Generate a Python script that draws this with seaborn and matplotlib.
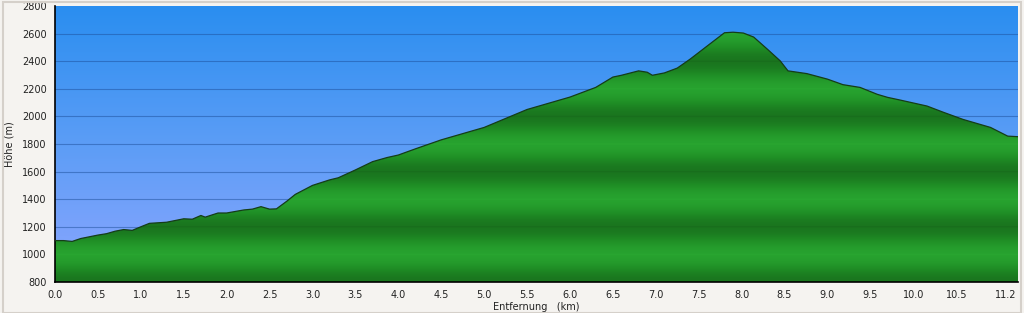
import numpy as np
import pandas as pd
import matplotlib
matplotlib.use("Agg")
import matplotlib.pyplot as plt
from matplotlib.colors import LinearSegmentedColormap
import seaborn as sns

# ---- data ----
distance_km = [0.0, 0.1, 0.2, 0.3, 0.5, 0.6, 0.7, 0.8, 0.9, 1.0, 1.1, 1.3, 1.5, 1.6,
               1.7, 1.75, 1.9, 2.0, 2.2, 2.3, 2.4, 2.5, 2.58, 2.7, 2.8, 3.0, 3.2,
               3.3, 3.5, 3.7, 3.87, 4.0, 4.2, 4.5, 5.0, 5.5, 6.0, 6.3, 6.5, 6.6,
               6.8, 6.9, 6.96, 7.1, 7.25, 7.4, 7.63, 7.8, 7.9, 8.02, 8.14, 8.3,
               8.45, 8.54, 8.76, 9.0, 9.18, 9.38, 9.58, 9.7, 9.85, 10.16, 10.35,
               10.58, 10.9, 11.1, 11.22]
elevation_m = [1100, 1100, 1094, 1115, 1140, 1150, 1168, 1180, 1174, 1200, 1225, 1233,
               1258, 1255, 1282, 1270, 1300, 1300, 1322, 1328, 1346, 1328, 1330,
               1385, 1435, 1500, 1540, 1555, 1612, 1672, 1702, 1720, 1765, 1830,
               1920, 2050, 2140, 2210, 2285, 2298, 2330, 2320, 2298, 2315, 2350,
               2415, 2525, 2606, 2610, 2604, 2575, 2487, 2402, 2330, 2310, 2270,
               2230, 2210, 2160, 2138, 2118, 2075, 2030, 1978, 1920, 1857, 1853]
x_ticks = [0.0, 0.5, 1.0, 1.5, 2.0, 2.5, 3.0, 3.5, 4.0, 4.5, 5.0, 5.5, 6.0, 6.5,
           7.0, 7.5, 8.0, 8.5, 9.0, 9.5, 10.0, 10.5, 11.2]
y_ticks = [800, 1000, 1200, 1400, 1600, 1800, 2000, 2200, 2400, 2600, 2800]

df = pd.DataFrame({"km": distance_km, "m": elevation_m})

sns.set_style("white")
plt.rcParams["font.family"] = ["DejaVu Sans"]

fig = plt.figure(figsize=(10.24, 3.13), dpi=100, facecolor="#f5f3f0")
ax = fig.add_axes([55 / 1024, 31 / 313, (1018 - 55) / 1024, (307 - 31) / 313])
ax.set_facecolor("#f5f3f0")

xmin, xmax = 0.0, 11.22
ymin, ymax = y_ticks[0], y_ticks[-1]
ax.set_xlim(xmin, xmax)
ax.set_ylim(ymin, ymax)

# sky gradient
sky = LinearSegmentedColormap.from_list("sky", ["#8ca6ff", "#5c9df6", "#2a8ef0"])
grad = np.linspace(0, 1, 256).reshape(-1, 1)
ax.imshow(grad, cmap=sky, origin="lower", aspect="auto",
          extent=[xmin, xmax, ymin, ymax], zorder=0)

# grid lines (visible on the sky)
for y in y_ticks[1:-1]:
    ax.axhline(y, color="#1d4f9a", lw=0.8, alpha=0.5, zorder=0.5)

# terrain fill with banded green
yy = np.linspace(ymin, ymax, 2000)
phase = ((yy - 1000) / 400.0) % 1.0
band = 0.5 + 0.5 * np.cos(2 * np.pi * phase)
dist_bright = np.minimum(phase, 1 - phase) * 400
dist_dark = np.abs(phase - 0.5) * 400
band = 0.15 + 0.75 * band + 0.12 * (dist_bright < 4) - 0.15 * (dist_dark < 4)
green = LinearSegmentedColormap.from_list("grn", ["#186c1c", "#1f8d25", "#29a731"])
img = ax.imshow(band.reshape(-1, 1), cmap=green, origin="lower", aspect="auto",
                extent=[xmin, xmax, ymin, ymax], zorder=1, vmin=0, vmax=1,
                interpolation="bilinear")
poly = ax.fill_between(df["km"], df["m"], ymin, color="none", lw=0)
img.set_clip_path(poly.get_paths()[0], transform=ax.transData)

# outline
sns.lineplot(data=df, x="km", y="m", ax=ax, color="#153d18", lw=0.9,
             zorder=3, legend=False)

ax.set_xticks(x_ticks)
ax.set_xticklabels([f"{v:.1f}" for v in x_ticks])
ax.get_xticklabels()[-1].set_horizontalalignment("right")
ax.set_yticks(y_ticks)
ax.tick_params(axis="both", direction="out", length=4, width=1, color="black",
               labelsize=7, colors="#222222", pad=2)
for s in ["top", "right"]:
    ax.spines[s].set_visible(False)
for s in ["left", "bottom"]:
    ax.spines[s].set_color("black")
    ax.spines[s].set_linewidth(1.2)
ax.set_xlabel("Entfernung   (km)", fontsize=7, color="#222222", labelpad=1)
ax.set_ylabel("Höhe (m)", fontsize=7, color="#222222", labelpad=5)

# figure frame
fig.patches.append(plt.Rectangle((0.003, 0.0), 0.994, 0.995, transform=fig.transFigure,
                                 fill=False, edgecolor="#d5d0ca", lw=1.5))

fig.savefig("out.png", dpi=100, facecolor=fig.get_facecolor())
